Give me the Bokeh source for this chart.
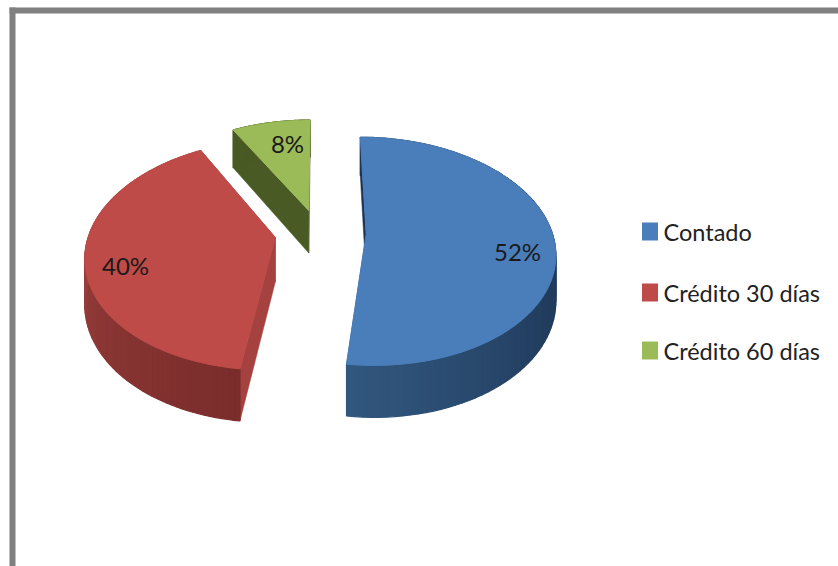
import numpy as np
from bokeh.plotting import figure
from bokeh.models import Range1d
from bokeh.core.properties import value
from bokeh.embed import file_html
from bokeh.resources import INLINE

categories = ["Contado", "Crédito 30 días", "Crédito 60 días"]
values = [52, 40, 8]
pct_labels = ["52%", "40%", "8%"]

top_colors = ["#4a7ebb", "#be4b48", "#9bbb59"]
wall_colors = ["#1c3350", "#a5423f", "#4a5a24"]
side_stops = [["#1c3553", "#1c3553", "#223e60", "#32587f"],
              ["#7a2d2b", "#8a3634", "#a04442", "#a04442"],
              ["#4a5a24", "#4a5a24", "#4a5a24", "#4a5a24"]]
label_pos = [(517, 251), (125, 265), (287, 143)]
legend_y = [231.5, 292, 350]
nudge = [(0, 0), (-2, 0), (-2, 3)]

# projection of the tilted pie
CX, CY, A, B, K, DEPTH, EXPLODE = 321.0, 232.0, 186.0, 111.0, 0.15, 44.0, 0.24


def project(X, Y):
    s = 1.0 / (1.0 + K * Y)
    return CX + A * X * s, CY - B * Y * s, s


def mix(stops, t):
    rgb = np.array([[int(c[i:i + 2], 16) for i in (1, 3, 5)] for c in stops], float)
    pos = np.linspace(0, 1, len(stops))
    vals = [np.interp(t, pos, rgb[:, j]) for j in range(3)]
    return "#%02x%02x%02x" % tuple(int(round(v)) for v in vals)


p = figure(width=838, height=566, output_backend="svg", toolbar_location=None,
           x_range=Range1d(0, 838), y_range=Range1d(566, 0), min_border=0,
           background_fill_color="white", border_fill_color="white", outline_line_color=None)
p.xaxis.visible = False
p.yaxis.visible = False
p.grid.visible = False

# outer frame
p.quad(left=[9, 9], right=[15, 838], top=[7, 7], bottom=[566, 13], color="#808080", line_color=None)

total = float(sum(values))
start = 0.0
for i in range(len(values)):
    sweep = 2 * np.pi * values[i] / total
    end = start + sweep
    mid = (start + end) / 2
    ex, ey = EXPLODE * np.sin(mid), EXPLODE * np.cos(mid)
    th = np.linspace(start, end, 90)
    px, py, ps = project(ex + np.sin(th), ey + np.cos(th))
    ax, ay, a_s = project(ex, ey)
    px, ax = px + nudge[i][0], ax + nudge[i][0]
    py, ay = py + nudge[i][1], ay + nudge[i][1]

    # radial walls at the start and the end of the slice
    for k in (0, -1):
        wx = [ax, px[k], px[k], ax]
        wy = [ay, py[k], py[k] + DEPTH * ps[k], ay + DEPTH * a_s]
        p.patch(wx, wy, color=wall_colors[i], line_color=wall_colors[i], line_width=0.5)

    # curved side, shaded in strips
    xs, ys, cs = [], [], []
    for j in range(len(th) - 1):
        xs.append([px[j], px[j + 1], px[j + 1], px[j]])
        ys.append([py[j], py[j + 1], py[j + 1] + DEPTH * ps[j + 1], py[j] + DEPTH * ps[j]])
        t = np.clip((th[j] - start) / sweep, 0, 1)
        cs.append(mix(side_stops[i], t))
    p.patches(xs, ys, fill_color=cs, line_color=cs, line_width=1.2)

    # top face
    p.patch(np.r_[ax, px], np.r_[ay, py], color=top_colors[i], line_color=top_colors[i], line_width=1)
    start = end

# percentage labels
p.text([q[0] for q in label_pos], [q[1] for q in label_pos], text=pct_labels,
       text_font=value("Lato"), text_font_size="24px", text_color="#1a1a1a",
       text_align="center", text_baseline="middle")

# legend
p.rect([649.5] * 3, [231, 292, 350], width=16, height=18, color=top_colors, line_color=None)
p.text([663] * 3, legend_y, text=categories, text_font=value("Lato"), text_font_size="23.5px",
       text_color="#222222", text_align="left", text_baseline="middle")

open("out.html", "w").write(file_html(p, INLINE))
